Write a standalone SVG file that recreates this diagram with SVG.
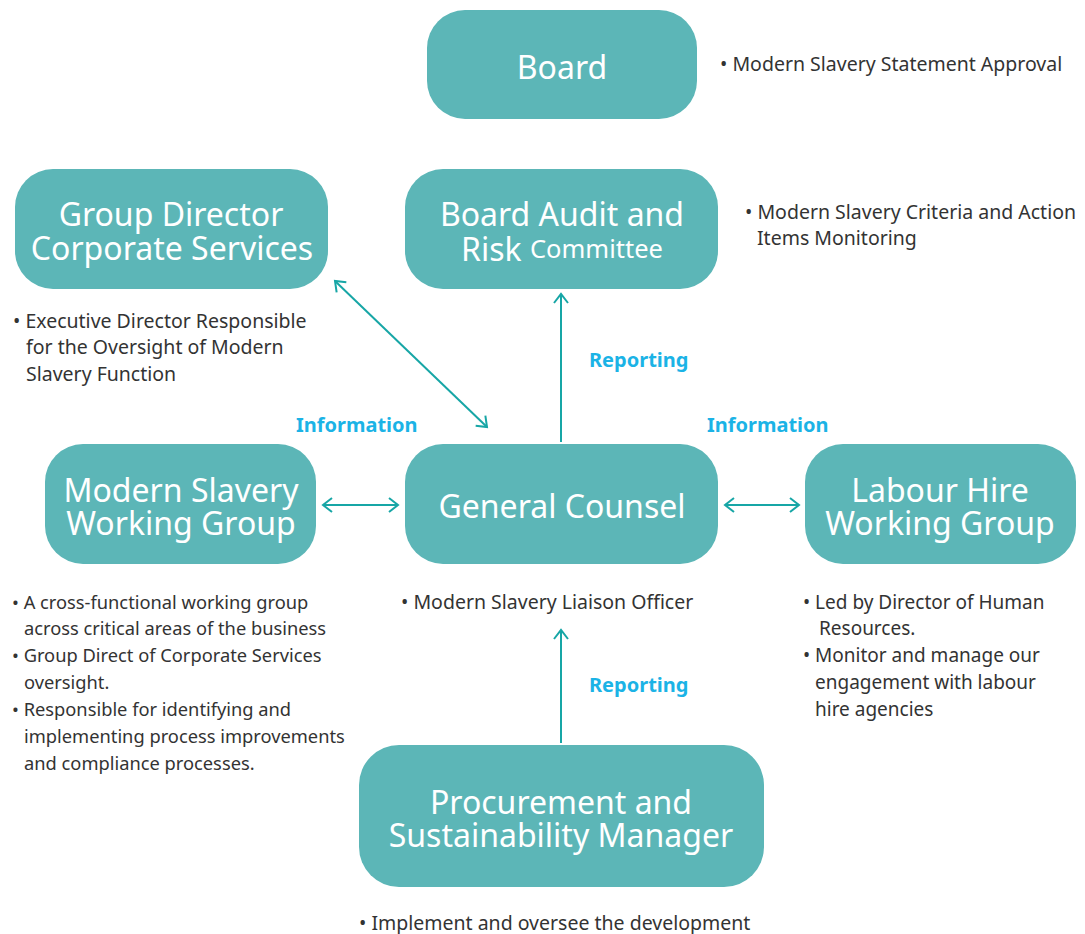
<svg xmlns="http://www.w3.org/2000/svg" width="1085" height="934" viewBox="0 0 1085 934">
<style>
.box{fill:#5CB6B7}
.nt{font-family:"Noto Sans","Liberation Sans",sans-serif;font-size:32px;fill:#fff;text-anchor:middle;dominant-baseline:central}
.bt{font-family:"Noto Sans","Liberation Sans",sans-serif;font-size:19.5px;fill:#333}
.s18{font-size:18.3px}
.s19{font-size:19px}
.lb{font-family:"Noto Sans","Liberation Sans",sans-serif;font-size:20px;font-weight:bold;fill:#1BB3E6}
.cn{stroke:#17A6A6;stroke-width:2;fill:none}
</style>
<defs>
<marker id="ah" viewBox="-12 -10 20 20" refX="0" refY="0" markerWidth="20" markerHeight="20" markerUnits="userSpaceOnUse" orient="auto-start-reverse" overflow="visible">
<path d="M-9,-7 L0,0 L-9,7" fill="none" stroke="#17A6A6" stroke-width="2"/>
</marker>
</defs>
<rect width="1085" height="934" fill="#fff"/>
<g id="connectors">
<line class="cn" x1="561" y1="442" x2="561" y2="294" marker-end="url(#ah)"/>
<line class="cn" x1="561" y1="743" x2="561" y2="630" marker-end="url(#ah)"/>
<line class="cn" x1="335" y1="281" x2="487" y2="427" marker-start="url(#ah)" marker-end="url(#ah)"/>
<line class="cn" x1="323" y1="505" x2="398" y2="505" marker-start="url(#ah)" marker-end="url(#ah)"/>
<line class="cn" x1="725" y1="505" x2="799" y2="505" marker-start="url(#ah)" marker-end="url(#ah)"/>
<text class="lb" x="589" y="367">Reporting</text>
<text class="lb" x="589" y="692">Reporting</text>
<text class="lb" x="296" y="432">Information</text>
<text class="lb" x="707" y="432">Information</text>
</g>
<g id="board">
<rect class="box" x="427" y="10" width="270" height="109" rx="38"/>
<text class="nt" x="562" y="66">Board</text>
<text class="bt" x="720" y="71">• Modern Slavery Statement Approval</text>
</g>
<g id="audit">
<rect class="box" x="405" y="169" width="313" height="120" rx="38"/>
<text class="nt" x="562" y="213">Board Audit and</text>
<text class="nt" x="562" y="248">Risk <tspan font-size="25.5px">Committee</tspan></text>
<text class="bt" x="745" y="219">• Modern Slavery Criteria and Action</text>
<text class="bt" x="757" y="245">Items Monitoring</text>
</g>
<g id="gdcs">
<rect class="box" x="15" y="169" width="313" height="120" rx="38"/>
<text class="nt" x="171" y="213">Group Director</text>
<text class="nt" x="172" y="247">Corporate Services</text>
<text class="bt" x="13" y="328">• Executive Director Responsible</text>
<text class="bt" x="26" y="354">for the Oversight of Modern</text>
<text class="bt" x="26" y="381">Slavery Function</text>
</g>
<g id="mswg">
<rect class="box" x="45" y="444" width="271" height="120" rx="38"/>
<text class="nt" x="181" y="489">Modern Slavery</text>
<text class="nt" x="181" y="522">Working Group</text>
<text class="bt s18" x="12" y="609">• A cross-functional working group</text>
<text class="bt s18" x="24" y="635">across critical areas of the business</text>
<text class="bt s18" x="12" y="662">• Group Direct of Corporate Services</text>
<text class="bt s18" x="24" y="689">oversight.</text>
<text class="bt s18" x="12" y="716">• Responsible for identifying and</text>
<text class="bt s18" x="24" y="743">implementing process improvements</text>
<text class="bt s18" x="24" y="770">and compliance processes.</text>
</g>
<g id="gc">
<rect class="box" x="405" y="444" width="313" height="120" rx="38"/>
<text class="nt" x="562" y="505">General Counsel</text>
<text class="bt" x="401" y="609">• Modern Slavery Liaison Officer</text>
</g>
<g id="lhwg">
<rect class="box" x="805" y="444" width="271" height="120" rx="38"/>
<text class="nt" x="940" y="489">Labour Hire</text>
<text class="nt" x="940" y="522">Working Group</text>
<text class="bt s19" x="803" y="609">• Led by Director of Human</text>
<text class="bt s19" x="819" y="635">Resources.</text>
<text class="bt s19" x="803" y="662">• Monitor and manage our</text>
<text class="bt s19" x="815" y="689">engagement with labour</text>
<text class="bt s19" x="815" y="716">hire agencies</text>
</g>
<g id="psm">
<rect class="box" x="359" y="745" width="405" height="142" rx="40"/>
<text class="nt" x="561" y="801">Procurement and</text>
<text class="nt" x="561" y="834">Sustainability Manager</text>
<text class="bt" x="359" y="930">• Implement and oversee the development</text>
</g>
</svg>
